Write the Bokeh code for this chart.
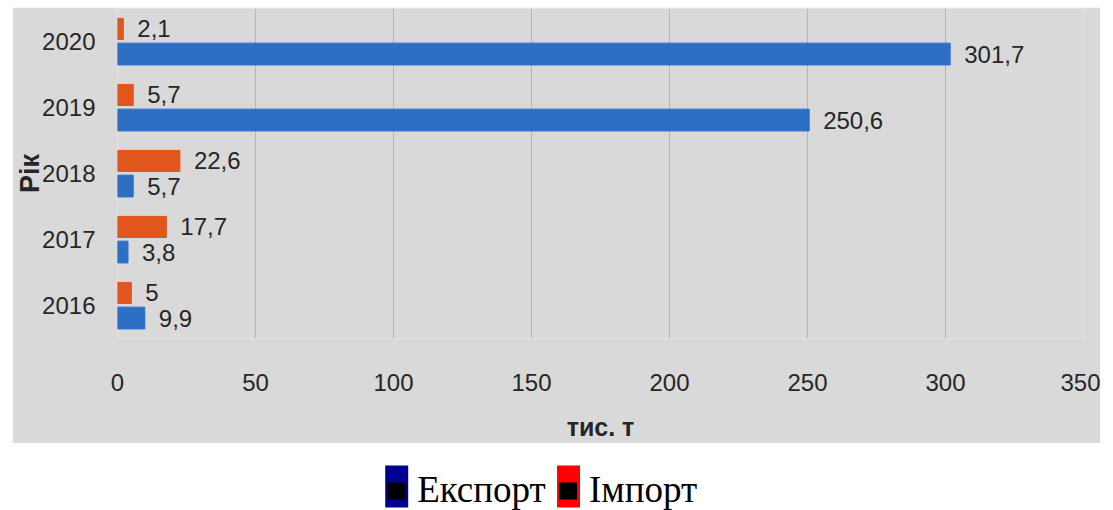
from bokeh.plotting import figure
from bokeh.models import ColumnDataSource, Range1d, FactorRange, FixedTicker
from bokeh.transform import dodge
from bokeh.layouts import column
from bokeh.embed import file_html
from bokeh.resources import INLINE
from bokeh.core.properties import value

years = ["2016", "2017", "2018", "2019", "2020"]
export_vals = [9.9, 3.8, 5.7, 250.6, 301.7]
import_vals = [5.0, 17.7, 22.6, 5.7, 2.1]
x_ticks = [0, 50, 100, 150, 200, 250, 300, 350]
legend_names = ["Експорт", "Імпорт"]
legend_colors = ["#000090", "#ff0000"]

def fmt(v):
    return f"{v:g}".replace(".", ",")

src = ColumnDataSource(dict(
    year=years,
    exp=export_vals,
    imp=import_vals,
    exp_lbl=[fmt(v) for v in export_vals],
    imp_lbl=[fmt(v) for v in import_vals],
))

GREY = "#d9d9d9"
BLUE = "#2e6fc6"
ORANGE = "#e0561c"
FONT = "Liberation Sans"
TXT = "#262626"
FS = "24px"

p = figure(width=1088, height=436, y_range=FactorRange(*years), x_range=Range1d(0, 350),
           output_backend="svg", toolbar_location=None,
           min_border_left=104, min_border_right=17, min_border_top=1, min_border_bottom=104,
           margin=(7, 0, 0, 12))
p.background_fill_color = GREY
p.border_fill_color = GREY
p.outline_line_color = None

p.hbar(y=dodge("year", 0.19, range=p.y_range), right="imp", height=0.32, left=0,
       source=src, color=ORANGE)
p.hbar(y=dodge("year", -0.19, range=p.y_range), right="exp", height=0.33, left=0,
       source=src, color=BLUE)

p.text(x="imp", y=dodge("year", 0.19, range=p.y_range), text="imp_lbl", source=src,
       x_offset=14, text_baseline="middle", text_align="left",
       text_font=value(FONT), text_font_size=FS, text_color=TXT)
p.text(x="exp", y=dodge("year", -0.19, range=p.y_range), text="exp_lbl", source=src,
       x_offset=14, text_baseline="middle", text_align="left",
       text_font=value(FONT), text_font_size=FS, text_color=TXT)

p.xaxis.ticker = FixedTicker(ticks=x_ticks)
p.xgrid.ticker = FixedTicker(ticks=x_ticks)
p.xgrid.grid_line_color = "#b5b5b5"
p.ygrid.grid_line_color = None

for ax in (p.xaxis[0], p.yaxis[0]):
    ax.axis_line_color = None
    ax.major_tick_line_color = None
    ax.minor_tick_line_color = None
    ax.major_label_text_font = FONT
    ax.major_label_text_font_size = FS
    ax.major_label_text_color = TXT
    ax.axis_label_text_font = FONT
    ax.axis_label_text_font_style = "bold"
    ax.axis_label_text_color = TXT

p.xaxis.axis_label = "тис. т"
p.xaxis.axis_label_text_font_size = "25px"
p.xaxis.major_label_standoff = 29
p.xaxis.axis_label_standoff = 19

p.yaxis.axis_label = "Рік"
p.yaxis.axis_label_text_font_size = "27px"
p.yaxis.major_label_standoff = 16
p.yaxis.axis_label_standoff = -6

# legend strip below the chart panel; its frame lines up with the chart frame,
# so its x range is expressed in page pixels of that frame (116..1083)
leg = figure(width=1088, height=67, x_range=Range1d(116, 1083), y_range=Range1d(0, 67),
             output_backend="svg", toolbar_location=None,
             min_border_left=104, min_border_right=17, min_border_top=0, min_border_bottom=0,
             margin=(0, 0, 0, 12))
leg.axis.visible = False
leg.grid.visible = False
leg.outline_line_color = None
leg.background_fill_color = "white"
leg.border_fill_color = "white"

leg_x = [384, 556]
leg.quad(left=leg_x, right=[x + 23 for x in leg_x], top=[45, 45], bottom=[3, 3],
         color=legend_colors, line_color=None)
leg.quad(left=[x + 2 for x in leg_x], right=[x + 20 for x in leg_x], top=[28, 28], bottom=[11, 11],
         color="black", line_color=None)
leg.text(x=[x + 32 for x in leg_x], y=[21, 21], text=legend_names, text_baseline="middle",
         text_align="left", text_font=value("Liberation Serif"), text_font_size="37px",
         text_color="black")

layout = column(p, leg, spacing=0)
open("out.html", "w").write(file_html(layout, INLINE))
